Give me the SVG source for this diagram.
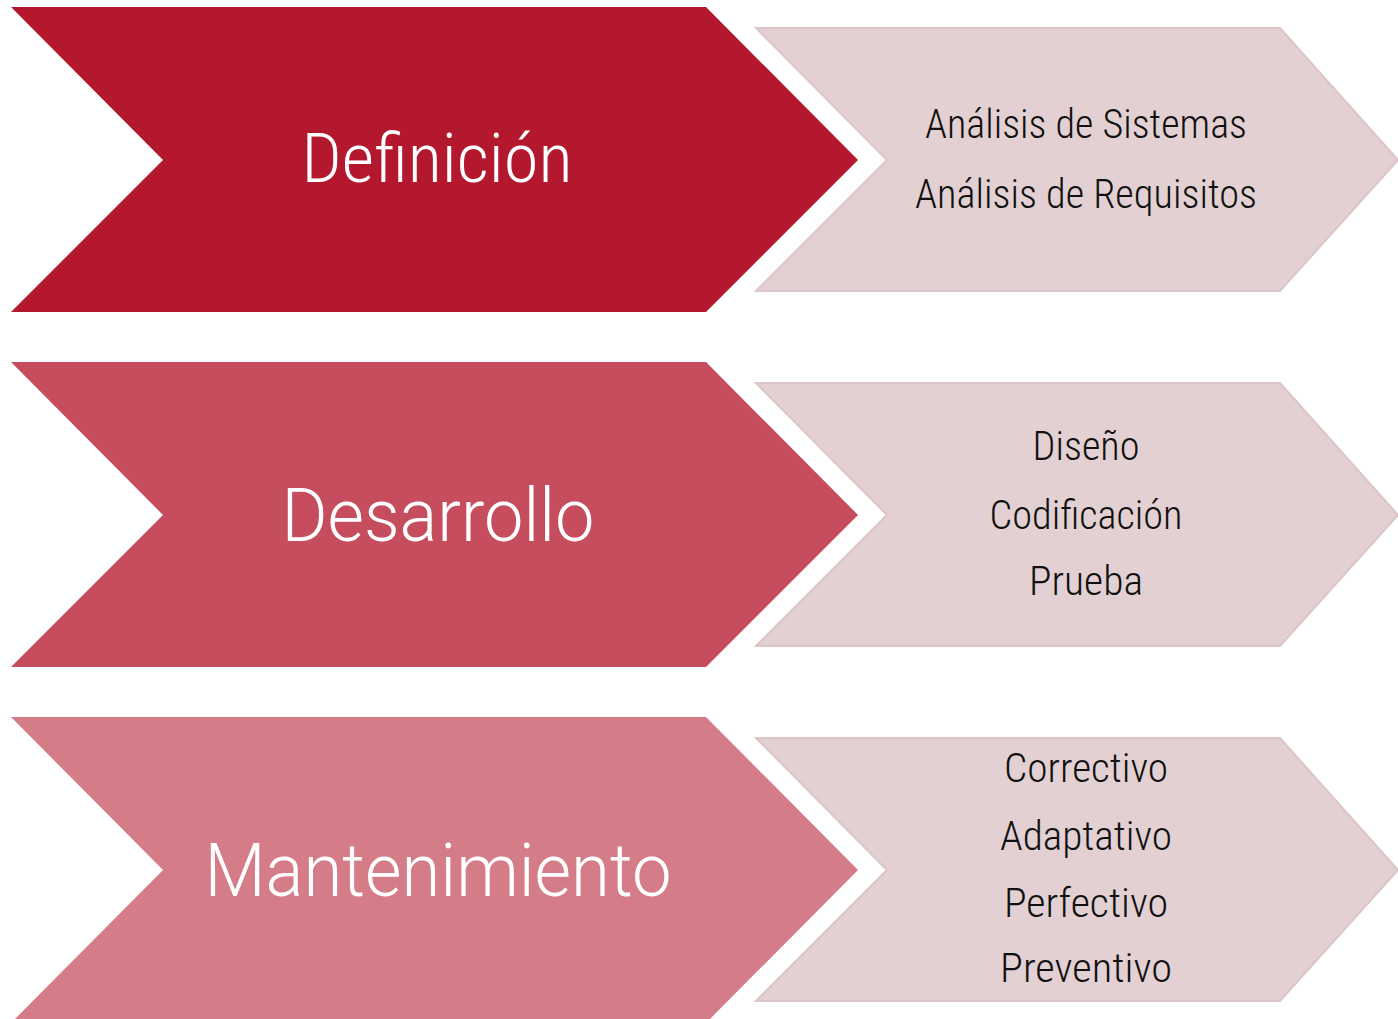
<svg xmlns="http://www.w3.org/2000/svg" width="1398" height="1019" viewBox="0 0 1398 1019">
<style>
.big{font-family:"Roboto","Liberation Sans",sans-serif;font-weight:300;fill:#ffffff;text-anchor:middle}
.dosis{font-family:"Roboto Condensed","Liberation Sans Narrow","DejaVu Sans Condensed",sans-serif;font-weight:300;text-anchor:middle}
.sub{font-size:40px;fill:#111111}
.light{fill:#e3d0d2;stroke:#dcc5c8;stroke-width:2}
</style>
<rect width="1398" height="1019" fill="#ffffff"/>
<g id="definicion">
<polygon points="11,7 706,7 858,160 706,312 11,312 163,160" fill="#b3182f"/>
<text class="dosis" x="437" y="182" font-size="68" fill="#ffffff" textLength="271" lengthAdjust="spacingAndGlyphs">Definición</text>
</g>
<g id="definicion-detalle">
<polygon class="light" points="756,28 1280,28 1398,160 1280,291 756,291 887,160"/>
<text class="dosis sub" x="1086" y="138" textLength="322" lengthAdjust="spacingAndGlyphs">Análisis de Sistemas</text>
<text class="dosis sub" x="1086" y="208" textLength="342" lengthAdjust="spacingAndGlyphs">Análisis de Requisitos</text>
</g>
<g id="desarrollo">
<polygon points="11,362 706,362 858,515 706,667 11,667 163,515" fill="#c64d5e"/>
<text class="big" x="438" y="541" font-size="75" textLength="313" lengthAdjust="spacingAndGlyphs">Desarrollo</text>
</g>
<g id="desarrollo-detalle">
<polygon class="light" points="756,383 1280,383 1398,515 1280,646 756,646 887,515"/>
<text class="dosis sub" x="1086" y="460" textLength="107" lengthAdjust="spacingAndGlyphs">Diseño</text>
<text class="dosis sub" x="1086" y="529" textLength="193" lengthAdjust="spacingAndGlyphs">Codificación</text>
<text class="dosis sub" x="1086" y="595" textLength="114" lengthAdjust="spacingAndGlyphs">Prueba</text>
</g>
<g id="mantenimiento">
<polygon points="11,717 706,717 858,870 706,1023 11,1023 163,870" fill="#d47d89"/>
<text class="big" x="438" y="896" font-size="74" textLength="467" lengthAdjust="spacingAndGlyphs">Mantenimiento</text>
</g>
<g id="mantenimiento-detalle">
<polygon class="light" points="756,738 1280,738 1398,870 1280,1001 756,1001 887,870"/>
<text class="dosis sub" x="1086" y="782" textLength="164" lengthAdjust="spacingAndGlyphs">Correctivo</text>
<text class="dosis sub" x="1086" y="850" textLength="172" lengthAdjust="spacingAndGlyphs">Adaptativo</text>
<text class="dosis sub" x="1086" y="917" textLength="164" lengthAdjust="spacingAndGlyphs">Perfectivo</text>
<text class="dosis sub" x="1086" y="982" textLength="172" lengthAdjust="spacingAndGlyphs">Preventivo</text>
</g>
<g id="connectors"/>
</svg>
